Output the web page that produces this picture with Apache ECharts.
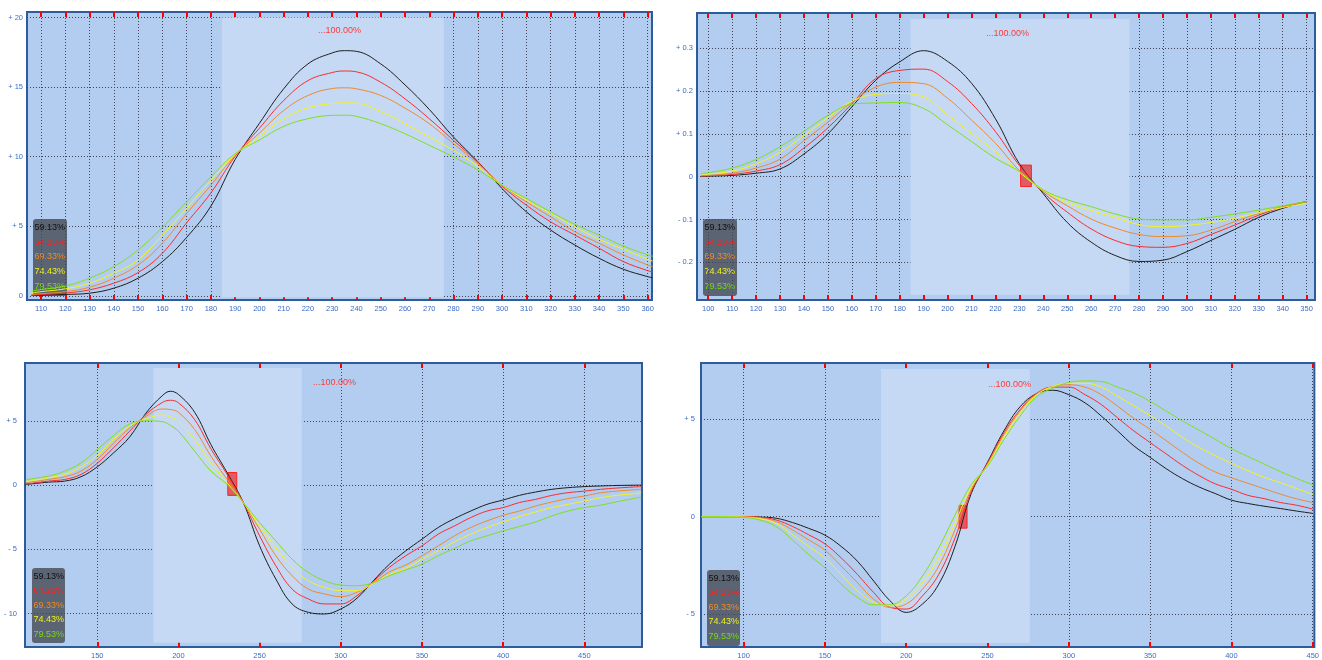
<!DOCTYPE html>
<html>
<head>
<meta charset="utf-8">
<title>curves</title>
<script src="https://cdn.jsdelivr.net/npm/echarts@6/dist/echarts.min.js"></script>
<style>
  html, body { margin: 0; padding: 0; background: #fff; }
  #main { width: 1322px; height: 660px; }
</style>
</head>
<body>
<div id="main"></div>
<script>
// ---- legend / series names ----
var seriesNames = ['59.13%', '64.23%', '69.33%', '74.43%', '79.53%'];
var peakLabel = '...100.00%';

// ---- panel 1 (top left) ----
var p1X = [106, 110, 120, 130, 140, 150, 160, 170, 180, 190, 200, 210, 220, 230, 235, 240, 250, 260, 270, 280, 290, 300, 310, 320, 330, 340, 350, 360, 362];
var p1A = [0.03, 0.05, 0.1, 0.19, 0.55, 1.27, 2.46, 4.2, 6.45, 9.8, 12.4, 14.88, 16.67, 17.46, 17.62, 17.57, 16.67, 15.16, 13.4, 11.41, 9.65, 7.71, 6.04, 4.73, 3.65, 2.7, 1.91, 1.38, 1.3];
var p1B = [0.06, 0.1, 0.2, 0.43, 0.91, 1.67, 3.06, 5.25, 7.4, 10.03, 12.05, 14.04, 15.47, 16.05, 16.16, 16.1, 15.35, 14.16, 12.73, 11.17, 9.6, 7.88, 6.52, 5.32, 4.37, 3.42, 2.46, 1.81, 1.72];
var p1C = [0.1, 0.15, 0.3, 0.62, 1.27, 2.22, 3.78, 5.92, 7.95, 10.1, 11.7, 13.32, 14.4, 14.9, 14.95, 14.88, 14.4, 13.49, 12.37, 10.94, 9.5, 7.95, 6.76, 5.68, 4.61, 3.78, 2.94, 2.22, 2.1];
var p1D = [0.2, 0.3, 0.5, 0.91, 1.63, 2.58, 4.37, 6.28, 8.31, 10.17, 11.45, 12.73, 13.52, 13.82, 13.87, 13.85, 13.25, 12.37, 11.41, 10.46, 9.3, 7.95, 6.88, 5.92, 4.96, 4.06, 3.35, 2.63, 2.5];
var p1E = [0.35, 0.45, 0.7, 1.27, 2.1, 3.3, 4.92, 6.76, 8.55, 10.22, 11.2, 12.18, 12.73, 12.97, 12.98, 12.9, 12.37, 11.65, 10.82, 9.98, 9.05, 7.95, 7.0, 6.04, 5.14, 4.37, 3.58, 2.94, 2.85];
var p1XTicks = [110, 120, 130, 140, 150, 160, 170, 180, 190, 200, 210, 220, 230, 240, 250, 260, 270, 280, 290, 300, 310, 320, 330, 340, 350, 360];
var p1YTicks = [0, 5, 10, 15, 20];

// ---- panel 2 (top right) ----
var p2X = [97, 100, 110, 120, 130, 140, 150, 160, 170, 180, 190, 200, 210, 220, 230, 240, 250, 260, 270, 280, 290, 300, 310, 320, 330, 340, 350];
var p2A = [0, 0.001, 0.003, 0.008, 0.018, 0.053, 0.1, 0.163, 0.225, 0.268, 0.294, 0.269, 0.218, 0.135, 0.03, -0.04, -0.107, -0.153, -0.184, -0.198, -0.195, -0.175, -0.149, -0.123, -0.095, -0.074, -0.058];
var p2B = [0.001, 0.002, 0.005, 0.013, 0.028, 0.067, 0.114, 0.17, 0.229, 0.248, 0.251, 0.222, 0.171, 0.105, 0.026, -0.037, -0.083, -0.122, -0.149, -0.163, -0.165, -0.156, -0.135, -0.113, -0.09, -0.071, -0.058];
var p2C = [0.002, 0.003, 0.008, 0.02, 0.041, 0.084, 0.127, 0.174, 0.209, 0.22, 0.217, 0.183, 0.132, 0.078, 0.014, -0.034, -0.068, -0.099, -0.12, -0.135, -0.14, -0.138, -0.125, -0.105, -0.086, -0.07, -0.06];
var p2D = [0.005, 0.006, 0.013, 0.03, 0.057, 0.096, 0.1375, 0.176, 0.192, 0.194, 0.186, 0.144, 0.101, 0.058, 0.01, -0.032, -0.06, -0.079, -0.095, -0.112, -0.117, -0.114, -0.107, -0.097, -0.084, -0.072, -0.062];
var p2E = [0.007, 0.009, 0.02, 0.04, 0.07, 0.106, 0.143, 0.169, 0.172, 0.173, 0.159, 0.121, 0.082, 0.043, 0.012, -0.031, -0.054, -0.07, -0.087, -0.099, -0.101, -0.101, -0.095, -0.087, -0.078, -0.068, -0.058];
var p2XTicks = [100, 110, 120, 130, 140, 150, 160, 170, 180, 190, 200, 210, 220, 230, 240, 250, 260, 270, 280, 290, 300, 310, 320, 330, 340, 350];
var p2YTicks = [-0.2, -0.1, 0, 0.1, 0.2, 0.3];

// ---- panel 3 (bottom left) ----
var p3X = [106, 110, 120, 130, 140, 150, 160, 170, 180, 190, 195, 200, 210, 220, 230, 240, 250, 260, 270, 280, 290, 300, 310, 320, 330, 340, 350, 360, 370, 380, 390, 400, 410, 420, 430, 440, 450, 460, 470, 480, 485];
var p3A = [0.05, 0.1, 0.23, 0.31, 0.65, 1.42, 2.5, 3.75, 5.6, 6.95, 7.3, 7.05, 5.66, 3.15, 0.96, -1.37, -4.73, -7.31, -9.25, -9.9, -10.03, -9.64, -8.8, -7.45, -6.15, -5.12, -4.21, -3.3, -2.61, -2.02, -1.5, -1.16, -0.8, -0.54, -0.33, -0.2, -0.12, -0.07, -0.03, -0.01, 0];
var p3B = [0.1, 0.15, 0.31, 0.44, 0.83, 1.7, 2.9, 4.2, 5.5, 6.42, 6.6, 6.4, 5.09, 2.82, 0.83, -1.37, -3.95, -6.28, -8.09, -8.86, -9.25, -9.25, -8.6, -7.5, -6.4, -5.5, -4.73, -3.82, -3.18, -2.53, -2.02, -1.75, -1.36, -1.11, -0.8, -0.59, -0.47, -0.33, -0.23, -0.15, -0.12];
var p3C = [0.18, 0.25, 0.44, 0.65, 1.09, 2.0, 3.25, 4.45, 5.35, 5.92, 5.88, 5.66, 4.32, 2.25, 0.44, -1.37, -3.44, -5.5, -7.05, -8.09, -8.47, -8.68, -8.34, -7.6, -6.75, -6.22, -5.5, -4.73, -3.95, -3.3, -2.79, -2.35, -2.02, -1.63, -1.32, -1.05, -0.85, -0.6, -0.47, -0.37, -0.33];
var p3D = [0.28, 0.35, 0.57, 0.83, 1.42, 2.3, 3.55, 4.6, 5.15, 5.45, 5.3, 4.96, 3.54, 1.73, 0.18, -1.37, -3.18, -4.86, -6.41, -7.44, -7.96, -8.22, -8.22, -7.65, -6.95, -6.48, -5.76, -5.12, -4.42, -3.82, -3.3, -2.87, -2.45, -2.09, -1.75, -1.5, -1.24, -0.98, -0.8, -0.68, -0.6];
var p3E = [0.4, 0.5, 0.7, 1.09, 1.73, 2.76, 3.85, 4.75, 5.0, 4.94, 4.65, 4.19, 2.64, 1.09, 0.05, -1.37, -2.92, -4.34, -5.76, -6.8, -7.44, -7.78, -7.83, -7.6, -7.05, -6.6, -6.15, -5.5, -4.93, -4.34, -3.95, -3.57, -3.22, -2.87, -2.4, -2.02, -1.75, -1.56, -1.3, -1.05, -0.93];
var p3XTicks = [150, 200, 250, 300, 350, 400, 450];
var p3YTicks = [-10, -5, 0, 5];

// ---- panel 4 (bottom right) ----
var p4X = [74, 80, 90, 100, 110, 120, 130, 140, 150, 160, 170, 180, 190, 200, 210, 220, 230, 240, 250, 260, 270, 280, 290, 300, 310, 320, 330, 340, 350, 360, 370, 380, 390, 400, 410, 420, 430, 440, 450];
var p4A = [0, 0, 0, 0, -0.02, -0.08, -0.3, -0.6, -0.95, -1.53, -2.29, -3.31, -4.32, -4.92, -4.49, -3.47, -1.53, 1.19, 2.8, 4.4, 5.65, 6.32, 6.5, 6.27, 5.85, 5.17, 4.41, 3.64, 3.05, 2.46, 1.95, 1.53, 1.19, 0.85, 0.68, 0.54, 0.42, 0.29, 0.17];
var p4B = [0, 0, 0, 0, -0.03, -0.17, -0.5, -0.93, -1.4, -2.12, -2.97, -3.9, -4.66, -4.75, -4.07, -2.97, -1.1, 1.3, 2.75, 4.3, 5.5, 6.33, 6.66, 6.66, 6.27, 5.76, 5.08, 4.41, 3.81, 3.22, 2.63, 2.12, 1.69, 1.41, 1.1, 0.93, 0.73, 0.59, 0.39];
var p4C = [0, 0, 0, -0.01, -0.06, -0.25, -0.68, -1.19, -1.72, -2.54, -3.39, -4.24, -4.66, -4.49, -3.73, -2.54, -0.68, 1.4, 2.7, 4.2, 5.42, 6.3, 6.69, 6.78, 6.66, 6.27, 5.68, 5.05, 4.49, 3.9, 3.3, 2.75, 2.3, 2.0, 1.72, 1.44, 1.16, 0.92, 0.73];
var p4D = [0, 0, 0, -0.02, -0.1, -0.34, -0.93, -1.53, -2.12, -2.97, -3.81, -4.41, -4.58, -4.24, -3.39, -2.12, -0.34, 1.53, 2.65, 4.1, 5.34, 6.25, 6.69, 6.86, 6.86, 6.66, 6.19, 5.7, 5.2, 4.66, 4.07, 3.56, 3.14, 2.74, 2.37, 2.03, 1.75, 1.45, 1.14];
var p4E = [0, 0, -0.01, -0.04, -0.17, -0.51, -1.19, -1.95, -2.63, -3.47, -4.15, -4.53, -4.53, -4.07, -3.05, -1.61, 0.08, 1.64, 2.6, 3.95, 5.17, 6.15, 6.61, 6.9, 6.98, 6.95, 6.66, 6.36, 5.93, 5.42, 4.92, 4.45, 3.98, 3.5, 3.1, 2.71, 2.32, 1.97, 1.64];
var p4XTicks = [100, 150, 200, 250, 300, 350, 400, 450];
var p4YTicks = [-5, 0, 5];

// lighter band (x range) shared by all panels
var bandRange = [184.5, 276];

var lineColors = ['#1e1e1e', '#ff2a2a', '#f0892c', '#f4f41c', '#80e01c'];
var legendColors = ['#111111', '#ff2020', '#f08a28', '#f0f020', '#78d818'];
var labelColor = '#3b6cc4';
var gridLine = { type: [1, 2], color: '#444458', width: 1 };
var font = 'Liberation Sans, Arial, sans-serif';

var panels = [
  { x: p1X, ys: [p1A, p1B, p1C, p1D, p1E], xTicks: p1XTicks, yTicks: p1YTicks, dec: 0,
    grid: { left: 27, top: 12, width: 625, height: 288 }, xr: [104.2, 361.8], yr: [-0.3, 20.4],
    band: [-0.1, 20.0], marker: null, box: [33, 219, 34, 77], rows: [9, 23.5, 38, 53, 68], peak: [318, 31], yMargin: 4 },
  { x: p2X, ys: [p2A, p2B, p2C, p2D, p2E], xTicks: p2XTicks, yTicks: p2YTicks, dec: 1,
    grid: { left: 697, top: 13, width: 618, height: 287 }, xr: [95.3, 353.5], yr: [-0.288, 0.382],
    band: [-0.276, 0.368], marker: [[230.5, -0.023], [235, 0.027]], box: [703, 219, 34, 77], rows: [9, 23.5, 38, 53, 68], peak: [986, 34], yMargin: 4 },
  { x: p3X, ys: [p3A, p3B, p3C, p3D, p3E], xTicks: p3XTicks, yTicks: p3YTicks, dec: 0,
    grid: { left: 25, top: 363, width: 617, height: 285 }, xr: [105.5, 485.5], yr: [-12.6, 9.5],
    band: [-12.27, 9.12], marker: [[230.4, -0.8], [235.9, 0.98]], box: [32, 568, 33, 75], rows: [8.7, 23, 38, 52, 67], peak: [313, 383], yMargin: 8 },
  { x: p4X, ys: [p4A, p4B, p4C, p4D, p4E], xTicks: p4XTicks, yTicks: p4YTicks, dec: 0,
    grid: { left: 701, top: 363, width: 614, height: 287 }, xr: [73.8, 451], yr: [-6.7, 7.9],
    band: [-6.49, 7.59], marker: [[232.5, -0.59], [237.4, 0.58]], box: [707, 570, 33, 76], rows: [9, 23, 38, 52, 67], peak: [988, 385], yMargin: 6 }
];

function yFormatter(dec) {
  return function (v) {
    if (Math.abs(v) < 1e-9) return '0';
    return (v > 0 ? '+ ' : '- ') + Math.abs(v).toFixed(dec);
  };
}

var grids = [], xAxes = [], yAxes = [], series = [], graphics = [];

panels.forEach(function (p, i) {
  grids.push(Object.assign({
    show: true, backgroundColor: '#b3cdf0', borderColor: '#2d5c9c', borderWidth: 2
  }, p.grid));

  // bottom axis with labels, red ticks pointing in
  xAxes.push({
    type: 'value', gridIndex: i, position: 'bottom', min: p.xr[0], max: p.xr[1],
    axisLine: { show: false, onZero: false },
    axisTick: { show: true, inside: true, length: 5, customValues: p.xTicks, lineStyle: { color: '#ff0000', width: 2 } },
    axisLabel: { customValues: p.xTicks, color: labelColor, fontSize: 7.5, fontFamily: font, margin: 5 },
    splitLine: { show: true, lineStyle: gridLine }
  });
  // top axis only for the red ticks
  xAxes.push({
    type: 'value', gridIndex: i, position: 'top', min: p.xr[0], max: p.xr[1],
    axisLine: { show: false, onZero: false },
    axisTick: { show: true, inside: true, length: 5, customValues: p.xTicks, lineStyle: { color: '#ff0000', width: 2 } },
    axisLabel: { show: false },
    splitLine: { show: false }
  });
  yAxes.push({
    type: 'value', gridIndex: i, min: p.yr[0], max: p.yr[1],
    axisLine: { show: false, onZero: false },
    axisTick: { show: false, customValues: p.yTicks },
    axisLabel: { customValues: p.yTicks, color: labelColor, fontSize: 7.5, fontFamily: font, margin: p.yMargin, formatter: yFormatter(p.dec) },
    splitLine: { show: true, lineStyle: gridLine }
  });

  // light band
  series.push({
    type: 'line', xAxisIndex: i * 2, yAxisIndex: i, data: [], z: 1, silent: true,
    markArea: {
      silent: true, itemStyle: { color: '#c5d8f4' },
      data: [[{ coord: [bandRange[0], p.band[0]] }, { coord: [bandRange[1], p.band[1]] }]]
    }
  });

  p.ys.forEach(function (ys, k) {
    series.push({
      name: seriesNames[k], type: 'line', xAxisIndex: i * 2, yAxisIndex: i,
      data: p.x.map(function (x, j) { return [x, ys[j]]; }),
      showSymbol: false, smooth: 0.4, silent: true, z: 3 + k,
      lineStyle: { width: 1, color: lineColors[k] }
    });
  });

  if (p.marker) {
    series.push({
      type: 'line', xAxisIndex: i * 2, yAxisIndex: i, data: [], z: 10, silent: true,
      markArea: {
        silent: true, itemStyle: { color: 'rgba(235,40,40,0.7)', borderColor: '#ff2020', borderWidth: 1 },
        data: [[{ coord: p.marker[0] }, { coord: p.marker[1] }]]
      }
    });
  }

  // legend box
  var children = [{
    type: 'rect', shape: { x: 0, y: 0, width: p.box[2], height: p.box[3], r: 3 },
    style: { fill: '#5a6472' }
  }];
  seriesNames.forEach(function (n, k) {
    children.push({
      type: 'text', x: 1.5, y: p.rows[k],
      style: { text: n, fill: legendColors[k], font: '9px ' + font, verticalAlign: 'middle' }
    });
  });
  graphics.push({ type: 'group', left: p.box[0], top: p.box[1], children: children, z: 20 });
  graphics.push({
    type: 'text', x: p.peak[0], y: p.peak[1], z: 20,
    style: { text: peakLabel, fill: '#ff3a3a', font: '9px ' + font, verticalAlign: 'middle' }
  });
});

var myChart = echarts.init(document.getElementById('main'));
myChart.setOption({
  animation: false,
  backgroundColor: '#ffffff',
  grid: grids,
  xAxis: xAxes,
  yAxis: yAxes,
  series: series,
  graphic: graphics
});
</script>
</body>
</html>
